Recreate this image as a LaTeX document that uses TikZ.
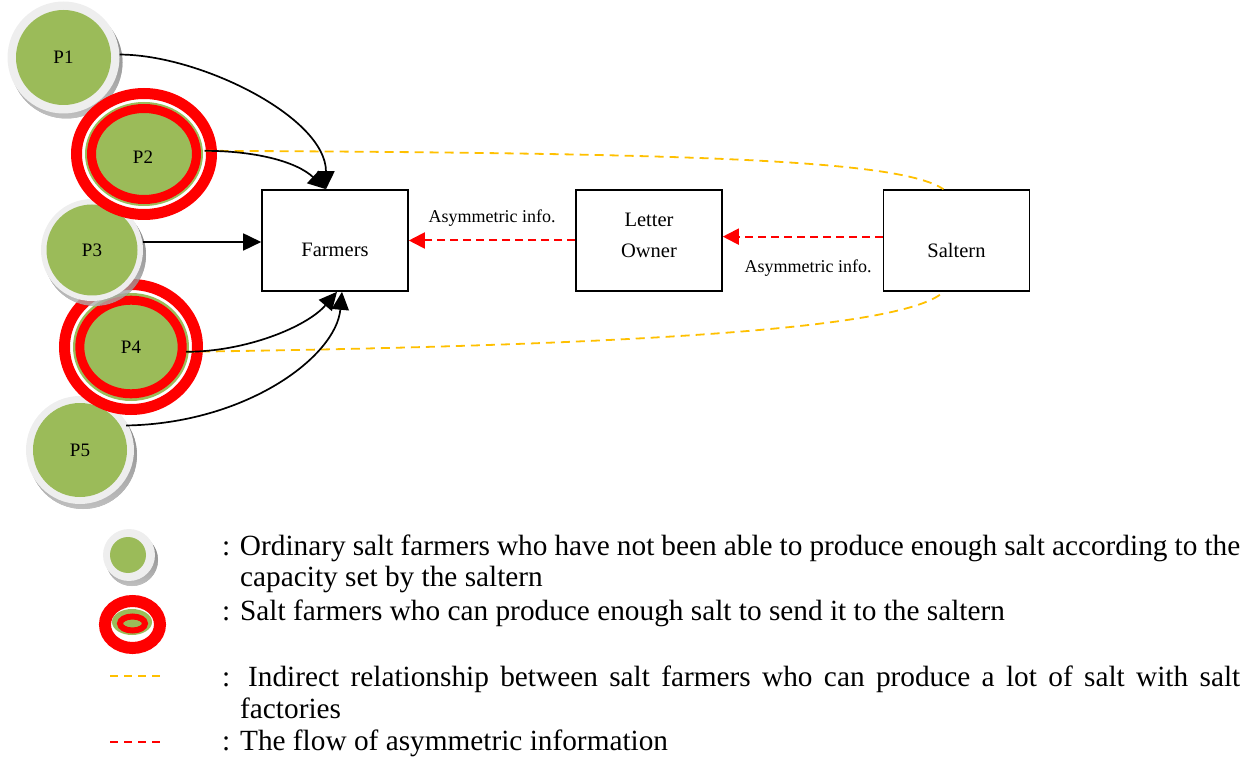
\documentclass[tikz,border=0pt]{standalone}
\usepackage{fontspec}
\setmainfont{Liberation Serif}
\usetikzlibrary{arrows.meta,calc,shapes.geometric}
\definecolor{leaf}{HTML}{9BBB59}
\definecolor{ringgray}{HTML}{EEEEEE}
\definecolor{shade}{RGB}{105,122,80}
\definecolor{amber}{HTML}{FFC000}

% ordinary farmer: drop shadow, grey rim, green disc
\newcommand{\ordfarmer}[3]{%
  \fill[shade, opacity=0.55] ($#1+(3,5)$) circle[radius=#2];
  \fill[ringgray] #1 circle[radius=#2];
  \fill[leaf] #1 circle[radius=#3];}
% productive farmer: outer red ring, white gap, green band, inner red ring
\newcommand{\ringfarmer}[4]{%
  \draw[red, line width=11pt, fill=white] #1 ellipse[#2];
  \fill[leaf] #1 ellipse[#3];
  \draw[red, line width=9pt, fill=leaf] #1 ellipse[#4];}

\begin{document}
\begin{tikzpicture}[x=1pt, y=-1pt,
  box/.style={draw=black, line width=1.6pt, minimum width=146pt, minimum height=101pt, inner sep=0pt},
  boxtext/.style={font=\fontsize{20.5}{31}\selectfont, align=center, inner sep=0pt},
  farmer/.style={circle, inner sep=0pt, font=\fontsize{19}{20}\selectfont},
  bigfarmer/.style={ellipse, inner sep=0pt, font=\fontsize{19}{20}\selectfont},
  flow/.style={line width=1.7pt, -{Triangle[length=18pt,width=17pt]}},
  asym/.style={red, line width=2pt, dash pattern=on 8pt off 5pt, -{Triangle[length=16pt,width=16pt]}},
  indirect/.style={amber, line width=1.8pt, dash pattern=on 9pt off 6pt},
  infolabel/.style={font=\fontsize{18}{20}\selectfont, inner sep=0pt},
  legtext/.style={anchor=base west, inner sep=0pt, font=\fontsize{29.3}{31}\selectfont}]

\useasboundingbox (0,0) rectangle (1259,759);

% ---- farmers P1 ... P5 (drawn back to front)
\ordfarmer{(63.5,57.5)}{56}{47.5}
\node[farmer, minimum size=112pt] (p1) at (63.5,57.5) {P1};

\ordfarmer{(80,450)}{54}{47}
\node[farmer, minimum size=104pt] (p5) at (80,450) {P5};

\ringfarmer{(131,347)}{x radius=66.5,y radius=62.5}{x radius=58,y radius=54}{x radius=51.2,y radius=46.8}
\node[bigfarmer, minimum width=110pt, minimum height=102pt] (p4) at (131,347) {P4};

\ordfarmer{(92,250)}{51}{45.5}
\node[farmer, minimum size=102pt] (p3) at (92,250) {P3};

\ringfarmer{(144,154)}{x radius=67.5,y radius=60.5}{x radius=59,y radius=52}{x radius=52.5,y radius=45.5}
\node[bigfarmer, minimum width=121pt, minimum height=106pt] (p2) at (144,154) {};
\node[farmer] (p2txt) at (143,157) {P2};

% ---- actors
\node[box] (farm) at (335,240.5) {};
\node[boxtext] (farmtxt) at (335,250) {Farmers};
\node[box] (owner) at (649,240.5) {};
\node[boxtext] (ownertxt) at (649,235.5) {Letter\\Owner};
\node[box] (salt) at (956.5,240.5) {};
\node[boxtext] (salttxt) at (956.5,250) {Saltern};

\coordinate (farmtop) at ($(farm.north)+(-9,0)$);
\coordinate (farmbotA) at ($(farm.south)+(2,0)$);
\coordinate (farmbotB) at ($(farm.south)+(7,0)$);
\coordinate (salttop) at ($(salt.north)+(-13,0)$);
\coordinate (saltbot) at ($(salt.south)+(-13,0)$);

% ---- indirect links to the saltern
\draw[indirect] (p2.3) .. controls +(495,2) and +(-43,-29) .. (salttop);
\draw[indirect] (p4.-5) .. controls +(515,-7) and +(-33,32) .. (saltbot);

% ---- supply to the farmers
\draw[flow] (p1.3) .. controls +(80,0) and +(0,-72) .. (farmtop);
\draw[flow] (p2.3) .. controls +(50,0) and +(-30,-28) .. (farmtop);
\draw[flow] (p3.9) -- (p3.9 -| farm.west);
\draw[flow] (p4.-5) .. controls +(60,0) and +(-30,35) .. (farmbotA);
\draw[flow] (p5.28) .. controls +(120,-2) and +(-6,65) .. (farmbotB);

% ---- asymmetric information
\draw[asym] (owner) -- (farm);
\draw[asym] (salt.177) -- (salt.177 -| owner.east);
\node[infolabel] (info1) at (492,218) {Asymmetric info.};
\node[infolabel] (info2) at (808,268) {Asymmetric info.};

% ---- legend
\fill[shade, opacity=0.55] (132,560) circle[radius=26];
\fill[ringgray] (129,555) circle[radius=26];
\fill[leaf] (128,555) circle[radius=18];

\draw[red, line width=12pt, fill=white] (132.5,624.5) ellipse[x radius=27.5, y radius=23.5];
\fill[leaf] (132,622) ellipse[x radius=20, y radius=13];
\draw[red, line width=6pt, fill=leaf] (132.5,623.5) ellipse[x radius=12.5, y radius=7];
\fill[leaf] (132.5,623.5) ellipse[x radius=7, y radius=2.2];

\coordinate (ylA) at (110,676);
\coordinate (ylB) at (160,676);
\draw[amber, line width=1.8pt, dash pattern=on 8pt off 6pt] (ylA) -- (ylB);
\coordinate (rlA) at (110,742);
\coordinate (rlB) at (160,742);
\draw[red, line width=1.8pt, dash pattern=on 8pt off 6pt] (rlA) -- (rlB);

\node[legtext] (leg1) at (222,555) {\makebox[1018pt][s]{: Ordinary salt farmers who have not been able to produce enough salt according to the}};
\node[legtext] (leg1b) at (240,586) {capacity set by the saltern};
\node[legtext] (leg2) at (222,620) {: Salt farmers who can produce enough salt to send it to the saltern};
\node[legtext] (leg3) at (222,686) {\makebox[1018pt][s]{: Indirect relationship between salt farmers who can produce a lot of salt with salt}};
\node[legtext] (leg3b) at (240,718) {factories};
\node[legtext] (leg4) at (222,750) {: The flow of asymmetric information};
\end{tikzpicture}
\end{document}
